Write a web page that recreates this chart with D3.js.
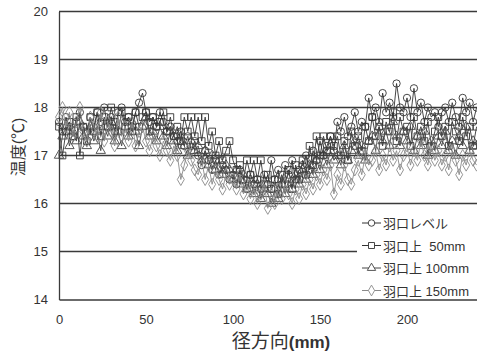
<!DOCTYPE html>
<html>
<head>
<meta charset="utf-8">
<script src="https://cdn.jsdelivr.net/npm/d3@7"></script>
<style>
  body { margin: 0; background: #fff; }
  svg { display: block; font-family: "Liberation Sans", Arial, "Noto Sans CJK JP", sans-serif; }
</style>
</head>
<body>
<svg id="chart" width="477" height="356"></svg>
<script>
// radial position (mm), every 2 mm from 0 to 240
const positions = d3.range(0, 241, 2);

const seriesNames = ["羽口レベル", "羽口上  50mm", "羽口上 100mm", "羽口上 150mm"];

const tuyereLevel = [
  17.7,17.5,17.8,17.6,17.4,17.7,17.9,17.6,17.5,17.8,
  17.6,17.9,17.7,18.0,17.6,17.8,17.5,17.9,18.0,17.7,
  17.8,17.6,17.9,18.1,18.3,17.9,17.7,17.8,17.6,17.9,
  17.7,17.5,17.6,17.4,17.3,17.5,17.2,17.4,17.1,17.3,
  17.0,16.8,17.1,16.9,16.7,16.9,16.6,16.8,16.7,16.5,
  16.6,16.4,16.7,16.5,16.3,16.6,16.4,16.5,16.3,16.6,
  16.4,16.9,16.5,16.7,16.4,16.8,16.6,16.9,16.5,16.7,
  16.8,17.0,16.7,17.1,16.9,17.3,17.0,17.2,17.4,17.1,
  17.7,17.5,17.8,17.4,17.6,17.9,17.5,17.7,17.6,18.2,
  17.8,18.0,17.7,18.3,17.9,18.1,17.8,18.5,18.0,17.9,
  18.2,17.8,18.4,17.9,18.1,17.7,18.0,17.8,17.9,17.6,
  17.9,18.0,17.7,18.1,17.8,17.6,18.2,17.9,18.1,17.7,
  18.0
];

const above50 = [
  17.6,17.0,17.5,17.7,17.4,17.8,17.0,17.6,17.3,17.8,
  17.5,17.9,17.4,17.8,17.6,18.0,17.7,17.5,17.9,17.6,
  17.8,17.5,17.9,17.6,17.8,17.9,17.5,17.8,17.6,17.7,
  17.9,17.5,17.8,17.4,17.6,17.3,17.8,17.5,17.8,17.4,
  17.8,17.3,17.8,17.2,17.5,17.0,17.3,16.9,17.1,17.3,
  16.9,16.7,16.8,16.5,16.9,16.6,16.9,16.5,16.9,16.4,
  16.6,16.3,16.5,16.2,16.6,16.4,16.7,16.3,16.8,16.5,
  16.9,16.6,17.2,16.8,17.4,17.0,17.4,17.1,17.4,17.2,
  17.4,17.0,17.3,16.9,17.5,17.2,17.4,17.1,17.6,17.3,
  17.8,17.4,17.6,17.2,17.7,17.5,17.9,17.3,17.8,17.5,
  17.6,17.2,17.8,17.4,17.6,17.3,17.7,17.2,17.5,17.8,
  17.4,17.6,17.2,17.7,17.5,17.3,17.8,17.4,17.6,17.2,
  17.6
];

const above100 = [
  17.0,17.4,17.6,17.2,17.5,17.3,17.7,17.4,17.2,17.6,
  17.3,17.5,17.1,17.6,17.4,17.7,17.3,17.5,17.2,17.6,
  17.4,17.7,17.5,17.2,17.6,17.8,17.4,17.5,17.3,17.6,
  17.4,17.2,17.5,17.3,17.1,17.4,17.2,17.0,17.3,17.1,
  17.2,16.9,17.1,16.8,17.0,16.7,16.9,16.6,16.8,16.7,
  16.5,16.7,16.4,16.6,16.3,16.5,16.2,16.4,16.1,16.3,
  16.2,16.0,16.3,16.1,16.4,16.2,16.5,16.3,16.6,16.4,
  16.7,16.5,16.8,16.6,16.9,16.7,17.0,16.8,17.1,16.9,
  17.0,16.8,17.2,16.9,17.1,17.3,17.0,17.2,16.9,17.3,
  17.4,17.1,17.6,17.3,17.5,17.2,17.7,17.4,17.2,17.5,
  17.3,17.6,17.1,17.4,17.2,17.5,17.0,17.3,17.1,17.4,
  17.2,17.5,17.1,17.3,17.0,17.4,17.2,17.6,17.1,17.3,
  17.2
];

const above150 = [
  17.8,18.0,17.6,17.9,17.4,17.7,18.0,17.5,17.3,17.8,
  17.6,17.4,17.9,17.3,17.7,17.5,17.2,17.8,17.4,17.6,
  17.3,17.7,17.2,17.5,17.6,17.3,17.1,17.4,17.2,17.0,
  17.3,17.1,16.9,17.2,17.0,16.5,16.8,17.1,16.9,16.7,
  16.6,16.9,16.5,16.8,16.4,16.7,16.5,16.3,16.6,16.4,
  16.5,16.3,16.6,16.2,16.4,16.1,16.3,16.0,16.2,16.4,
  15.9,16.2,16.0,16.3,16.1,16.4,16.2,16.0,16.3,16.1,
  16.4,16.2,16.5,16.3,16.6,16.4,16.7,16.5,16.8,16.2,
  16.6,16.4,16.8,16.5,16.4,16.7,16.9,16.6,17.0,16.8,
  16.9,17.1,16.7,17.0,16.8,17.2,16.9,17.1,16.7,17.0,
  17.2,16.8,17.1,16.9,17.3,17.0,16.8,17.2,16.9,17.1,
  16.8,17.0,16.7,17.1,16.9,16.6,17.0,16.8,17.1,16.9,
  16.8
];

const xTicks = [0, 50, 100, 150, 200];
const yTicks = [14, 15, 16, 17, 18, 19, 20];

const series = [
  {name: seriesNames[0], values: tuyereLevel, symbol: d3.symbolCircle, size: 42, color: "#333"},
  {name: seriesNames[1], values: above50, symbol: d3.symbolSquare, size: 45, color: "#333"},
  {name: seriesNames[2], values: above100, symbol: d3.symbolTriangle, size: 38, color: "#444"},
  {name: seriesNames[3], values: above150, symbol: d3.symbolDiamond, size: 42, color: "#8a8a8a"}
];

const svg = d3.select("#chart");

const x = d3.scaleLinear().domain([0, 250]).range([59, 494]);
const y = d3.scaleLinear().domain([14, 20]).range([299.5, 11.5]);

// horizontal gridlines
svg.append("g")
  .selectAll("line")
  .data(yTicks.slice(1))
  .join("line")
  .attr("x1", x(0))
  .attr("x2", 477)
  .attr("y1", d => y(d))
  .attr("y2", d => y(d))
  .attr("stroke", "#3a3a3a")
  .attr("stroke-width", 1.3);

// y axis
const yAxis = svg.append("g")
  .attr("transform", `translate(${x(0)},0)`)
  .call(d3.axisLeft(y).tickValues(yTicks).tickFormat(d3.format("d")).tickSize(0).tickPadding(11));
yAxis.select(".domain").attr("stroke", "#3a3a3a").attr("stroke-width", 1.3);
yAxis.selectAll("text").attr("font-size", 13).attr("fill", "#333");

// x axis
const xAxis = svg.append("g")
  .attr("transform", `translate(0,${y(14)})`)
  .call(d3.axisBottom(x).tickValues(xTicks).tickSize(0).tickPadding(15));
xAxis.select(".domain").attr("stroke", "#3a3a3a").attr("stroke-width", 1.3);
xAxis.selectAll("text").attr("font-size", 13).attr("fill", "#333");

// series lines + markers
const line = d3.line()
  .x((d, i) => x(positions[i]))
  .y(d => y(d));

series.forEach(s => {
  const g = svg.append("g");
  g.append("path")
    .datum(s.values)
    .attr("d", line)
    .attr("fill", "none")
    .attr("stroke", s.color)
    .attr("stroke-width", 0.9);
  const sym = d3.symbol().type(s.symbol).size(s.size);
  g.selectAll("path.m")
    .data(s.values)
    .join("path")
    .attr("class", "m")
    .attr("d", sym)
    .attr("transform", (d, i) => `translate(${x(positions[i])},${y(d)})`)
    .attr("fill", "none")
    .attr("stroke", s.color)
    .attr("stroke-width", 0.9);
});

// legend
const legend = svg.append("g");
legend.append("rect")
  .attr("x", 357)
  .attr("y", 205)
  .attr("width", 125)
  .attr("height", 93)
  .attr("fill", "#fff");

const rows = legend.selectAll("g.row")
  .data(series)
  .join("g")
  .attr("class", "row")
  .attr("transform", (d, i) => `translate(0,${223 + i * 22.5})`);

rows.append("line")
  .attr("x1", 362).attr("x2", 381)
  .attr("stroke", d => d.color)
  .attr("stroke-width", 1);
rows.append("path")
  .attr("d", d => d3.symbol().type(d.symbol).size(d.size * 0.8)())
  .attr("transform", "translate(371.5,0)")
  .attr("fill", "#fff")
  .attr("stroke", d => d.color)
  .attr("stroke-width", 0.9);
rows.append("text")
  .attr("x", 383)
  .attr("y", 5)
  .attr("font-size", 13)
  .attr("fill", "#333")
  .text(d => d.name)
  .attr("xml:space", "preserve")
  .style("white-space", "pre");

// axis titles
svg.append("text")
  .attr("transform", "translate(24,147) rotate(-90)")
  .attr("text-anchor", "middle")
  .attr("font-size", 16)
  .attr("fill", "#333")
  .text("温度(℃)");

const xt = svg.append("text")
  .attr("x", 281)
  .attr("y", 348)
  .attr("text-anchor", "middle")
  .attr("font-size", 19)
  .attr("fill", "#333");
xt.append("tspan").text("径方向");
xt.append("tspan").attr("font-weight", "bold").attr("font-size", 17).text("(mm)");
</script>
</body>
</html>
